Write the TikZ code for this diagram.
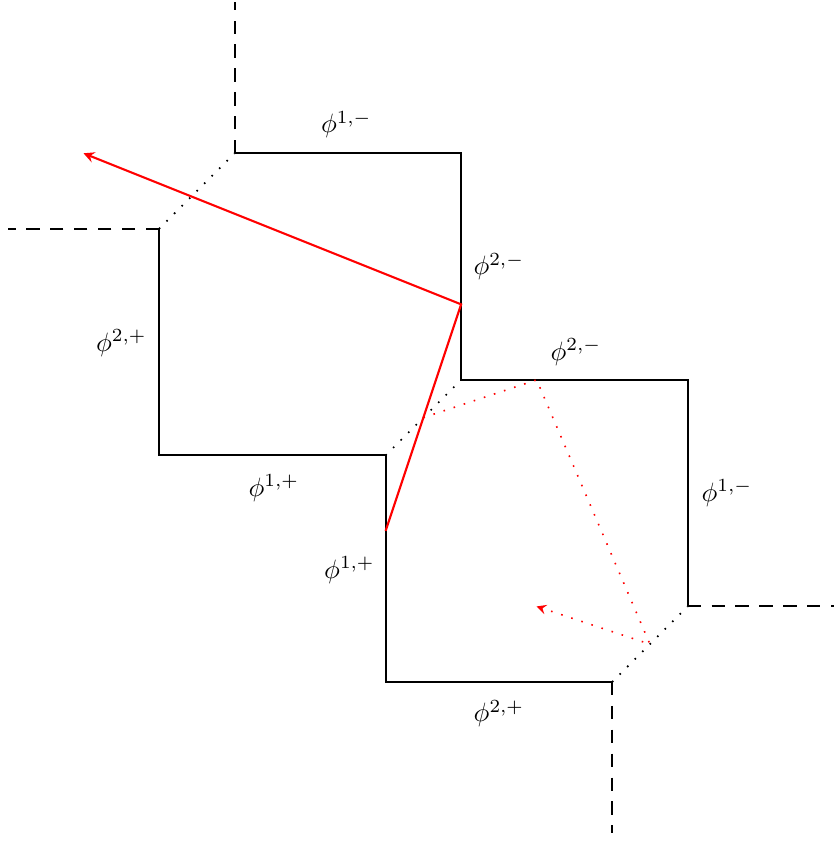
\documentclass[tikz,border=0pt]{standalone}
\begin{document}
\begin{tikzpicture}[scale=1,
    boundary/.style={thick},
    openend/.style={thick, dash pattern=on 5pt off 4pt},
    cutline/.style={line width=0.6pt, dash pattern=on 0.6pt off 3.4pt},
    ray/.style={red, thick, -stealth},
    ghostray/.style={red, cutline, -stealth}]
    \useasboundingbox (-0.106,-0.106) rectangle (10.93,11.03);
    %%%%%%%%%%%%%%%%%%%%%%%%%%%%%%%%%%%%%%%%%%%%%%
    % Staircase boundary
    %%%%%%%%%%%%%%%%%%%%%%%%%%%%%%%%%%%%%%%%%%%%%%
    % Upper-right wall
    \draw[boundary] (3,9) -- (6,9) -- (6,6) -- (9,6) -- (9,3);
    % Lower-left wall
    \draw[boundary] (2,8) -- (2,5) -- (5,5) -- (5,2) -- (8,2);

    % Walls going off to infinity
    \draw[openend] (3,9) -- (3,11);
    \draw[openend] (2,8) -- (0,8);
    \draw[openend] (9,3) -- (11,3);
    \draw[openend] (8,2) -- (8,0);

    % Cuts between the two walls
    \draw[cutline] (2,8) -- (3,9);
    \draw[cutline] (5,5) -- (6,6);
    \draw[cutline] (8,2) -- (9,3);

    % Labels of the pieces
    \node (top1m)   at (4.48,9.38) {$\phi^{1,-}$};
    \node (right2m) at (6.50,7.50) {$\phi^{2,-}$};
    \node (top2m)   at (7.52,6.37) {$\phi^{2,-}$};
    \node (right1m) at (9.52,4.50) {$\phi^{1,-}$};
    \node (left2p)  at (1.50,6.49) {$\phi^{2,+}$};
    \node (bot1p)   at (3.52,4.57) {$\phi^{1,+}$};
    \node (left1p)  at (4.52,3.48) {$\phi^{1,+}$};
    \node (bot2p)   at (6.50,1.58) {$\phi^{2,+}$};

    %%%%%%%%%%%%%%%%%%%%%%%%%%%%%%%%%%%%%%%%%%%%%%
    % Rays (red)
    %%%%%%%%%%%%%%%%%%%%%%%%%%%%%%%%%%%%%%%%%%%%%%
    \coordinate (start) at (5,4);
    \coordinate (hit) at (6,7);
    \coordinate (away) at (1,9);
    \draw[ray] (start) -- (hit) -- (away);

    % Continuation through the cut (dotted)
    \coordinate (cross) at (5.5,5.5);
    \coordinate (bounce) at (7,6);
    \coordinate (exit) at (8.5,2.5);
    \coordinate (lost) at (7,3);
    \draw[ghostray] (cross) -- (bounce) -- (exit) -- (lost);
  \end{tikzpicture}
\end{document}
